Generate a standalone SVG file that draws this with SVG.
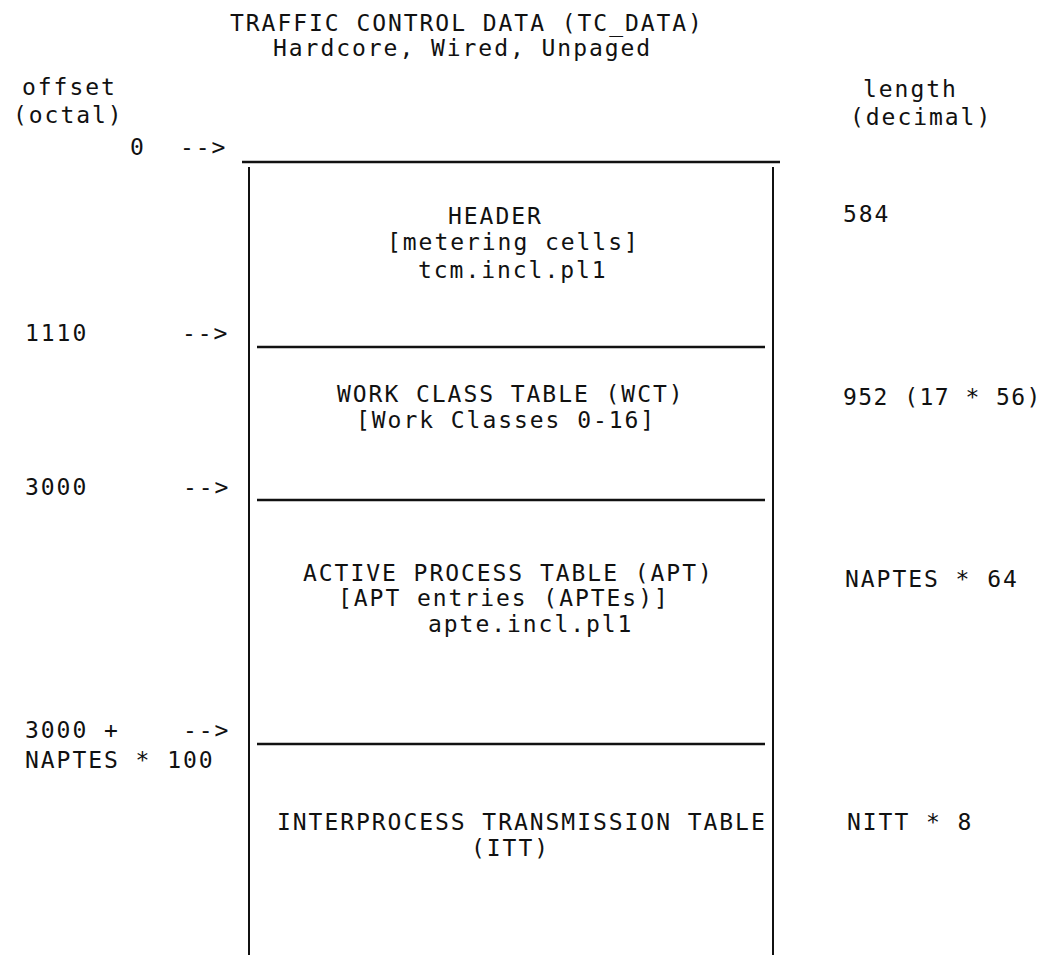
<svg xmlns="http://www.w3.org/2000/svg" width="1046" height="955" viewBox="0 0 1046 955">
  <style>
    text { font-family: "DejaVu Sans Mono", "Liberation Mono", monospace; font-size: 23px; letter-spacing: 1.95px; fill: #111; }
    .tight { letter-spacing: 1.45px; }
    .rule { stroke: #111; stroke-width: 2.4; fill: none; }
    .side { stroke: #111; stroke-width: 2; fill: none; }
  </style>
  <rect width="1046" height="955" fill="#fff"/>

  <!-- title -->
  <g id="title">
    <text x="230" y="31">TRAFFIC CONTROL DATA (TC_DATA)</text>
    <text x="273" y="56">Hardcore, Wired, Unpaged</text>
  </g>

  <!-- column headings -->
  <g id="offset-heading">
    <text x="22" y="95">offset</text>
    <text x="13" y="123">(octal)</text>
  </g>
  <g id="length-heading">
    <text x="863" y="97">length</text>
    <text x="850" y="125">(decimal)</text>
  </g>

  <!-- outline of the segment and the section boundaries -->
  <g id="connectors">
    <line class="rule" x1="242" y1="162" x2="780" y2="162"/>
    <line class="side" x1="249" y1="167" x2="249" y2="955"/>
    <line class="side" x1="773" y1="167" x2="773" y2="955"/>
    <line class="rule" x1="257" y1="347" x2="765" y2="347"/>
    <line class="rule" x1="257" y1="500" x2="765" y2="500"/>
    <line class="rule" x1="257" y1="744" x2="765" y2="744"/>
  </g>

  <!-- offsets -->
  <g id="offset-0">
    <text x="130" y="155">0</text>
    <text x="180" y="155">--&gt;</text>
  </g>
  <g id="offset-1110">
    <text x="25" y="341">1110</text>
    <text x="182" y="341">--&gt;</text>
  </g>
  <g id="offset-3000">
    <text x="25" y="495">3000</text>
    <text x="183" y="495">--&gt;</text>
  </g>
  <g id="offset-itt">
    <text x="25" y="738">3000 +</text>
    <text x="183" y="738">--&gt;</text>
    <text x="25" y="768">NAPTES * 100</text>
  </g>

  <!-- sections -->
  <g id="header">
    <text x="448" y="224">HEADER</text>
    <text x="387" y="250">[metering cells]</text>
    <text x="418" y="278">tcm.incl.pl1</text>
    <text x="843" y="222">584</text>
  </g>
  <g id="wct">
    <text x="337" y="402">WORK CLASS TABLE (WCT)</text>
    <text x="356" y="428">[Work Classes 0-16]</text>
    <text class="tight" x="843" y="405">952 (17 * 56)</text>
  </g>
  <g id="apt">
    <text x="303" y="581">ACTIVE PROCESS TABLE (APT)</text>
    <text x="338" y="606">[APT entries (APTEs)]</text>
    <text x="428" y="632">apte.incl.pl1</text>
    <text x="845" y="587">NAPTES * 64</text>
  </g>
  <g id="itt">
    <text x="277" y="830">INTERPROCESS TRANSMISSION TABLE</text>
    <text x="471" y="856">(ITT)</text>
    <text x="847" y="830">NITT * 8</text>
  </g>
</svg>
